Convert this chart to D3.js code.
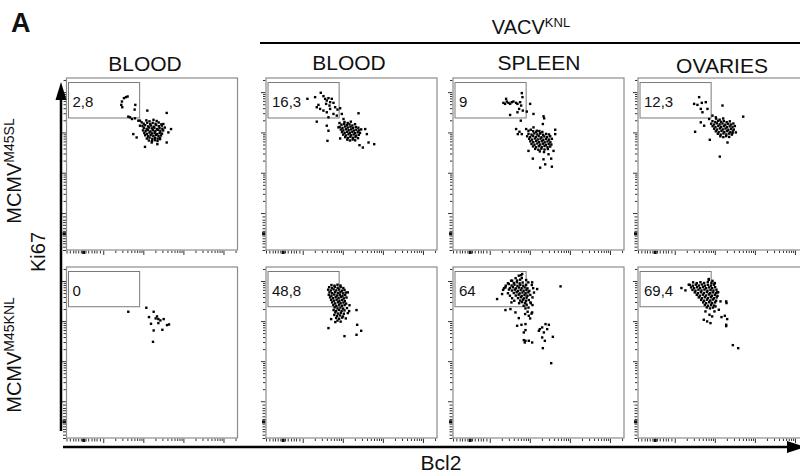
<!DOCTYPE html>
<html>
<head>
<meta charset="utf-8">
<script src="https://cdn.jsdelivr.net/npm/d3@7"></script>
<style>
  body { margin: 0; background: white; }
  svg text { font-family: "Liberation Sans", Arial, sans-serif; fill: #111; }
</style>
</head>
<body>
<svg width="800" height="476"></svg>
<script>
// tissue titles per column, row labels, gate percentages
const tissues = ['BLOOD', 'BLOOD', 'SPLEEN', 'OVARIES'];
const rowInfections = ['M45SL', 'M45KNL'];
const gateValues = [
    ['2,8', '16,3', '9', '12,3'],
    ['0', '48,8', '64', '69,4'],
];

// events, [Bcl2 channel, Ki67 channel] on a 0-1024 scale
const m45sl_blood = [
    [366,914],[356,910],[344,904],[332,884],[328,864],[334,850],[412,864],[408,836],
    [380,790],[392,780],[370,794],[410,784],[430,770],[484,830],[600,816],[440,740],[400,690],[420,670],
    [470,614],[544,630],[600,640],[626,720],[610,700],[580,750],[560,660],[510,640],[450,760],[440,770],
    [478,772],[497,766],[521,775],[540,768],
    [462,752],[483,758],[501,749],[516,757],[533,751],[552,759],[568,748],
    [455,738],[471,743],[489,736],[506,741],[522,734],[537,744],[553,737],[571,741],
    [463,727],[480,721],[494,729],[511,724],[526,728],[541,720],[557,726],[574,722],[589,729],
    [458,712],[474,708],[488,714],[503,706],[518,713],[532,707],[547,715],[562,709],[579,712],
    [466,697],[482,691],[497,699],[513,694],[528,698],[543,690],[558,697],[572,693],
    [471,683],[489,677],[504,684],[520,679],[535,685],[551,678],[566,682],
    [481,664],[497,669],[514,662],[530,668],[546,663],[560,667],
    [493,652],[512,648],[529,654],[545,649],
];
const m45sl_vacv_blood = [
    [248,900],[294,910],[328,936],[344,916],[354,900],[364,890],[374,904],[384,880],[394,900],[404,876],
    [380,860],[360,870],[314,864],[324,840],[344,830],[364,820],[384,840],[414,850],[428,836],[444,844],
    [304,850],[304,764],[374,790],[404,810],[424,800],[454,810],[464,780],[364,740],[374,710],[368,650],
    [554,814],[440,756],[594,720],[604,690],[614,640],[648,630],[580,610],[560,624],[444,664],[434,730],
    [470,762],[489,756],[508,764],
    [452,746],[468,750],[484,743],[500,748],[517,741],[533,749],
    [441,733],[458,727],[474,735],[490,729],[506,734],[521,726],[538,732],[553,728],
    [448,717],[463,712],[479,719],[495,713],[510,718],[526,711],[541,716],[557,712],[570,718],
    [455,702],[471,697],[486,704],[502,698],[517,703],[533,696],[549,701],[563,697],
    [462,687],[478,682],[494,689],[509,683],[525,688],[540,681],[556,686],
    [474,672],[490,667],[505,674],[521,668],[536,673],[551,666],
    [487,657],[503,652],[519,658],[534,653],
];
const m45sl_vacv_spleen = [
    [302,876],[312,870],[322,884],[332,876],[342,870],[352,880],[362,884],[378,876],[386,870],[318,900],
    [412,934],[416,910],[402,880],[408,860],[396,840],[418,830],[342,804],[386,820],[442,824],[462,870],
    [482,810],[406,770],[378,720],[398,704],[412,690],[388,690],[438,720],[452,710],[466,716],[482,730],
    [502,710],[522,696],[542,796],[546,784],[538,750],
    [452,590],[478,544],[522,490],[552,510],[592,496],[588,544],[602,590],[612,716],[612,690],[572,570],[542,540],
    [480,707],[498,702],[517,708],[535,703],
    [452,692],[470,687],[487,694],[505,688],[522,693],[540,686],[558,691],[575,688],
    [444,677],[462,672],[479,679],[496,673],[513,678],[530,671],[547,676],[564,672],[582,677],
    [456,662],[473,657],[490,664],[507,658],[524,663],[541,656],[558,661],[575,657],[592,662],
    [463,647],[481,642],[498,649],[515,643],[532,648],[549,641],[566,646],[583,642],
    [470,632],[488,627],[505,634],[522,628],[539,633],[556,626],[573,631],[589,628],
    [479,617],[497,612],[514,618],[531,613],[548,619],[566,612],[582,616],
    [492,602],[511,597],[529,603],[548,598],[568,601],
    [520,587],[545,583],
];
const m45sl_vacv_ovaries = [
    [366,910],[336,870],[356,864],[382,876],[406,880],[416,840],[376,840],[386,820],[506,860],[630,794],
    [342,704],[376,760],[396,740],[430,656],[490,556],[566,696],[586,700],[536,640],[446,800],[426,780],[466,790],
    [468,782],[489,776],[510,783],
    [446,767],[463,762],[480,769],[497,763],[514,768],[531,761],[550,766],
    [438,752],[455,747],[472,754],[489,748],[506,753],[523,746],[540,751],[557,747],[571,753],
    [447,737],[464,732],[481,739],[498,733],[515,738],[532,731],[549,736],[566,732],[580,738],
    [456,722],[473,717],[490,724],[507,718],[524,723],[541,716],[558,721],[574,717],
    [466,707],[483,702],[500,709],[517,703],[534,708],[551,701],[567,706],
    [478,692],[495,687],[512,694],[529,688],[546,693],[562,687],
    [493,677],[511,672],[528,678],[546,673],
];
const m45knl_blood = [
    [370,756],[478,780],[522,756],[494,724],[542,728],[550,712],[562,704],[582,712],
    [506,684],[550,688],[602,676],[614,680],[522,644],[574,648],[518,576],[534,716],
];
const m45knl_vacv_blood = [
    [374,658],[470,610],[542,618],[570,642],[546,678],[542,766],[490,872],[390,712],[498,760],[500,795],
    [392,916],[410,912],[428,918],[446,913],
    [378,903],[395,898],[412,905],[429,899],[447,904],[463,898],
    [372,888],[388,883],[405,890],[421,884],[438,889],[455,882],[470,887],
    [380,872],[396,867],[413,874],[430,868],[446,873],[462,866],[478,871],
    [376,857],[392,852],[409,859],[425,853],[442,858],[458,851],[474,856],
    [384,842],[401,837],[417,843],[434,838],[450,844],[466,836],[482,841],
    [390,827],[407,822],[423,828],[440,821],[456,826],[472,820],
    [396,812],[414,806],[431,813],[447,807],[464,811],[480,805],
    [403,797],[421,791],[438,798],[455,792],[471,796],
    [411,782],[428,776],[446,781],[462,775],[485,778],
    [405,766],[420,760],[437,767],[453,761],[470,764],
    [415,752],[431,745],[448,750],[466,744],[490,748],
    [409,737],[426,730],[444,734],[461,728],
    [420,719],[438,714],[456,721],[478,716],
    [428,703],[447,697],[415,694],
];
const m45knl_vacv_spleen = [
    [264,832],[294,862],[314,902],[334,922],[354,942],[394,972],[414,982],[314,766],[344,772],[374,752],
    [394,718],[384,672],[410,678],[434,646],[424,586],[430,572],[454,582],[350,812],
    [474,932],[504,892],[644,908],[464,812],[474,752],[454,732],[434,682],[424,632],[434,582],[474,572],
    [514,642],[534,662],[544,632],[554,682],[574,678],[534,602],[538,538],[550,582],[598,606],[588,448],
    [520,652],[564,652],
    [408,975],
    [375,957],[412,958],
    [348,942],[384,943],[402,948],[438,946],
    [329,927],[364,928],[382,933],[399,926],[417,931],[451,932],
    [316,912],[351,913],[368,918],[386,911],[403,916],[421,912],[438,917],[472,916],
    [306,897],[341,898],[359,903],[376,896],[394,901],[411,897],[429,902],[446,896],[480,897],
    [300,887],[335,889],[353,883],[370,888],[388,881],[405,886],[423,882],[440,887],[457,881],
    [329,867],[364,868],[381,873],[399,866],[416,871],[434,867],[451,872],[485,871],
    [341,852],[376,853],[393,858],[411,851],[428,856],[446,852],[463,857],
    [354,837],[389,838],[406,843],[424,836],[441,841],[476,842],
    [367,822],[402,823],[419,828],[437,821],[454,826],
    [396,807],[413,814],[431,808],[466,807],
    [423,792],[441,798],[476,796],
    [434,776],[452,781],
    [447,756],
    [432,742],[470,745],
    [462,716],
];
const m45knl_vacv_ovaries = [
    [260,898],[284,884],[304,918],
    [394,708],[414,698],[434,688],[444,728],[464,788],[484,768],[494,818],[528,818],[530,808],[500,724],
    [520,732],[534,712],[528,678],[528,670],[568,556],[600,538],[460,928],[424,952],[474,872],[404,758],
    [458,758],[428,738],
    [424,947],[446,941],
    [330,932],[352,927],[374,933],[396,928],[418,934],[440,929],[460,926],
    [310,917],[328,912],[346,918],[364,913],[382,919],[400,912],[418,917],[436,913],[454,918],
    [318,902],[336,897],[354,903],[372,898],[390,904],[408,897],[426,902],[444,898],[462,903],
    [326,887],[344,882],[362,888],[380,883],[398,889],[416,882],[434,887],[452,883],[470,888],
    [340,872],[358,867],[376,873],[394,868],[412,874],[430,867],[448,872],[466,868],[480,873],
    [352,857],[370,852],[388,858],[406,853],[424,859],[442,852],[460,857],[476,851],
    [364,842],[382,837],[400,843],[418,838],[436,844],[454,837],[471,842],
    [378,827],[396,822],[414,828],[432,823],[450,829],[468,822],
    [390,812],[408,807],[426,813],[444,808],[462,812],
    [400,797],[419,792],[438,798],[456,793],
    [412,782],[431,776],[449,781],
];
const events = [
    [m45sl_blood, m45sl_vacv_blood, m45sl_vacv_spleen, m45sl_vacv_ovaries],
    [m45knl_blood, m45knl_vacv_blood, m45knl_vacv_spleen, m45knl_vacv_ovaries],
];

// Ki67+ Bcl2-lo gate, in channels
const gateBcl2 = [12, 438];
const gateKi67 = [786, 997];

// axis ticks in channels (biexponential display)
const linearTicks = [0, 20, 40, 54, 70, 86, 114, 130, 150, 166, 180, 200];
const zeroTick = 100;
const decadeTicks = [220, 460, 700, 940];

const svg = d3.select('svg');

const colX = [66.5, 266, 453, 638];
const rowY = [78, 267];
const panelW = 171;
const panelH = [172, 171];
const titleX = [145, 349, 539, 722];
const titleY = [71, 70, 70, 73];

const minorTicks = [];
decadeTicks.forEach(d => {
    for (let k = 2; k <= 9; k++) {
        const v = d + 240 * Math.log10(k);
        if (v <= 1024) minorTicks.push(v);
    }
});

const drawTicks = (g, axis, scale, values, size, transform) => {
    const a = g.append('g')
        .attr('transform', transform)
        .call(axis(scale).tickValues(values).tickSize(size).tickFormat(''));
    a.selectAll('.domain').remove();
    a.selectAll('line').attr('stroke', '#333').attr('stroke-width', 1);
    return a;
};

rowInfections.forEach((inf, r) => {
    tissues.forEach((tissue, c) => {
        const g = svg.append('g')
            .attr('transform', `translate(${colX[c]}, ${rowY[r]})`);
        const x = d3.scaleLinear().domain([0, 1024]).range([0, panelW]);
        const y = d3.scaleLinear().domain([0, 1024]).range([panelH[r], 0]);

        // ticks
        const left = 'translate(-0.5,0)';
        const bottom = `translate(0,${panelH[r] + 0.5})`;
        drawTicks(g, d3.axisLeft, y, linearTicks, 3, left);
        drawTicks(g, d3.axisLeft, y, minorTicks, 2.5, left);
        drawTicks(g, d3.axisLeft, y, decadeTicks, 4.5, left);
        drawTicks(g, d3.axisLeft, y, [zeroTick], 3.5, left)
            .selectAll('line').attr('stroke-width', 3).attr('stroke', '#111');
        drawTicks(g, d3.axisBottom, x, linearTicks, 3, bottom);
        drawTicks(g, d3.axisBottom, x, minorTicks, 2.5, bottom);
        drawTicks(g, d3.axisBottom, x, decadeTicks, 4.5, bottom);
        drawTicks(g, d3.axisBottom, x, [zeroTick], 3.5, bottom)
            .selectAll('line').attr('stroke-width', 3).attr('stroke', '#111');

        // frame
        g.append('rect')
            .attr('width', panelW)
            .attr('height', panelH[r])
            .attr('fill', 'none')
            .attr('stroke', '#8c8c8c')
            .attr('stroke-width', 1.2);

        // gate
        g.append('rect')
            .attr('x', x(gateBcl2[0]))
            .attr('y', y(gateKi67[1]))
            .attr('width', x(gateBcl2[1]) - x(gateBcl2[0]))
            .attr('height', y(gateKi67[0]) - y(gateKi67[1]))
            .attr('fill', 'none')
            .attr('stroke', '#7a7a7a')
            .attr('stroke-width', 1);
        g.append('text')
            .attr('x', x(gateBcl2[0]) + 4)
            .attr('y', y(gateKi67[1]) + 24)
            .attr('font-size', '15px')
            .text(gateValues[r][c]);

        // events
        g.selectAll('rect.dot').data(events[r][c])
            .enter()
            .append('rect')
            .attr('class', 'dot')
            .attr('x', d => x(d[0]) - 1.2)
            .attr('y', d => y(d[1]) - 1.2)
            .attr('width', 2.4)
            .attr('height', 2.4)
            .attr('fill', '#000');

        if (r === 0) {
            svg.append('text')
                .attr('x', titleX[c])
                .attr('y', titleY[c])
                .attr('text-anchor', 'middle')
                .attr('font-size', '21px')
                .text(tissue);
        }
    });
});

// panel letter
svg.append('text')
    .attr('x', 11).attr('y', 32)
    .attr('font-size', '27px')
    .attr('font-weight', 'bold')
    .text('A');

// VACV header and bar
const vacv = svg.append('text')
    .attr('x', 531).attr('y', 34)
    .attr('text-anchor', 'middle')
    .attr('font-size', '20px');
vacv.append('tspan').text('VACV');
vacv.append('tspan').attr('font-size', '13px').attr('dy', -7).text('KNL');
svg.append('line')
    .attr('x1', 260).attr('x2', 800)
    .attr('y1', 43).attr('y2', 43)
    .attr('stroke', '#000').attr('stroke-width', 2);

// row labels
const rowLabelY = [171, 355];
rowInfections.forEach((inf, r) => {
    const t = svg.append('text')
        .attr('transform', `translate(21, ${rowLabelY[r]}) rotate(-90)`)
        .attr('text-anchor', 'middle')
        .attr('font-size', '20px');
    t.append('tspan').text('MCMV');
    t.append('tspan').attr('font-size', '14px').attr('dy', -7).text(inf);
});

// Ki67 arrow
svg.append('line')
    .attr('x1', 61).attr('x2', 61)
    .attr('y1', 98).attr('y2', 431)
    .attr('stroke', '#000').attr('stroke-width', 2.5);
svg.append('path')
    .attr('d', 'M61,82 L55.5,100 L66.5,100 Z')
    .attr('fill', '#000');
svg.append('text')
    .attr('transform', 'translate(45, 252) rotate(-90)')
    .attr('text-anchor', 'middle')
    .attr('font-size', '20px')
    .text('Ki67');

// Bcl2 arrow
svg.append('line')
    .attr('x1', 63).attr('x2', 790)
    .attr('y1', 447).attr('y2', 447)
    .attr('stroke', '#000').attr('stroke-width', 2.5);
svg.append('path')
    .attr('d', 'M805,447 L787,441 L787,453 Z')
    .attr('fill', '#000');
svg.append('text')
    .attr('x', 441).attr('y', 470)
    .attr('text-anchor', 'middle')
    .attr('font-size', '21px')
    .text('Bcl2');
</script>
</body>
</html>
